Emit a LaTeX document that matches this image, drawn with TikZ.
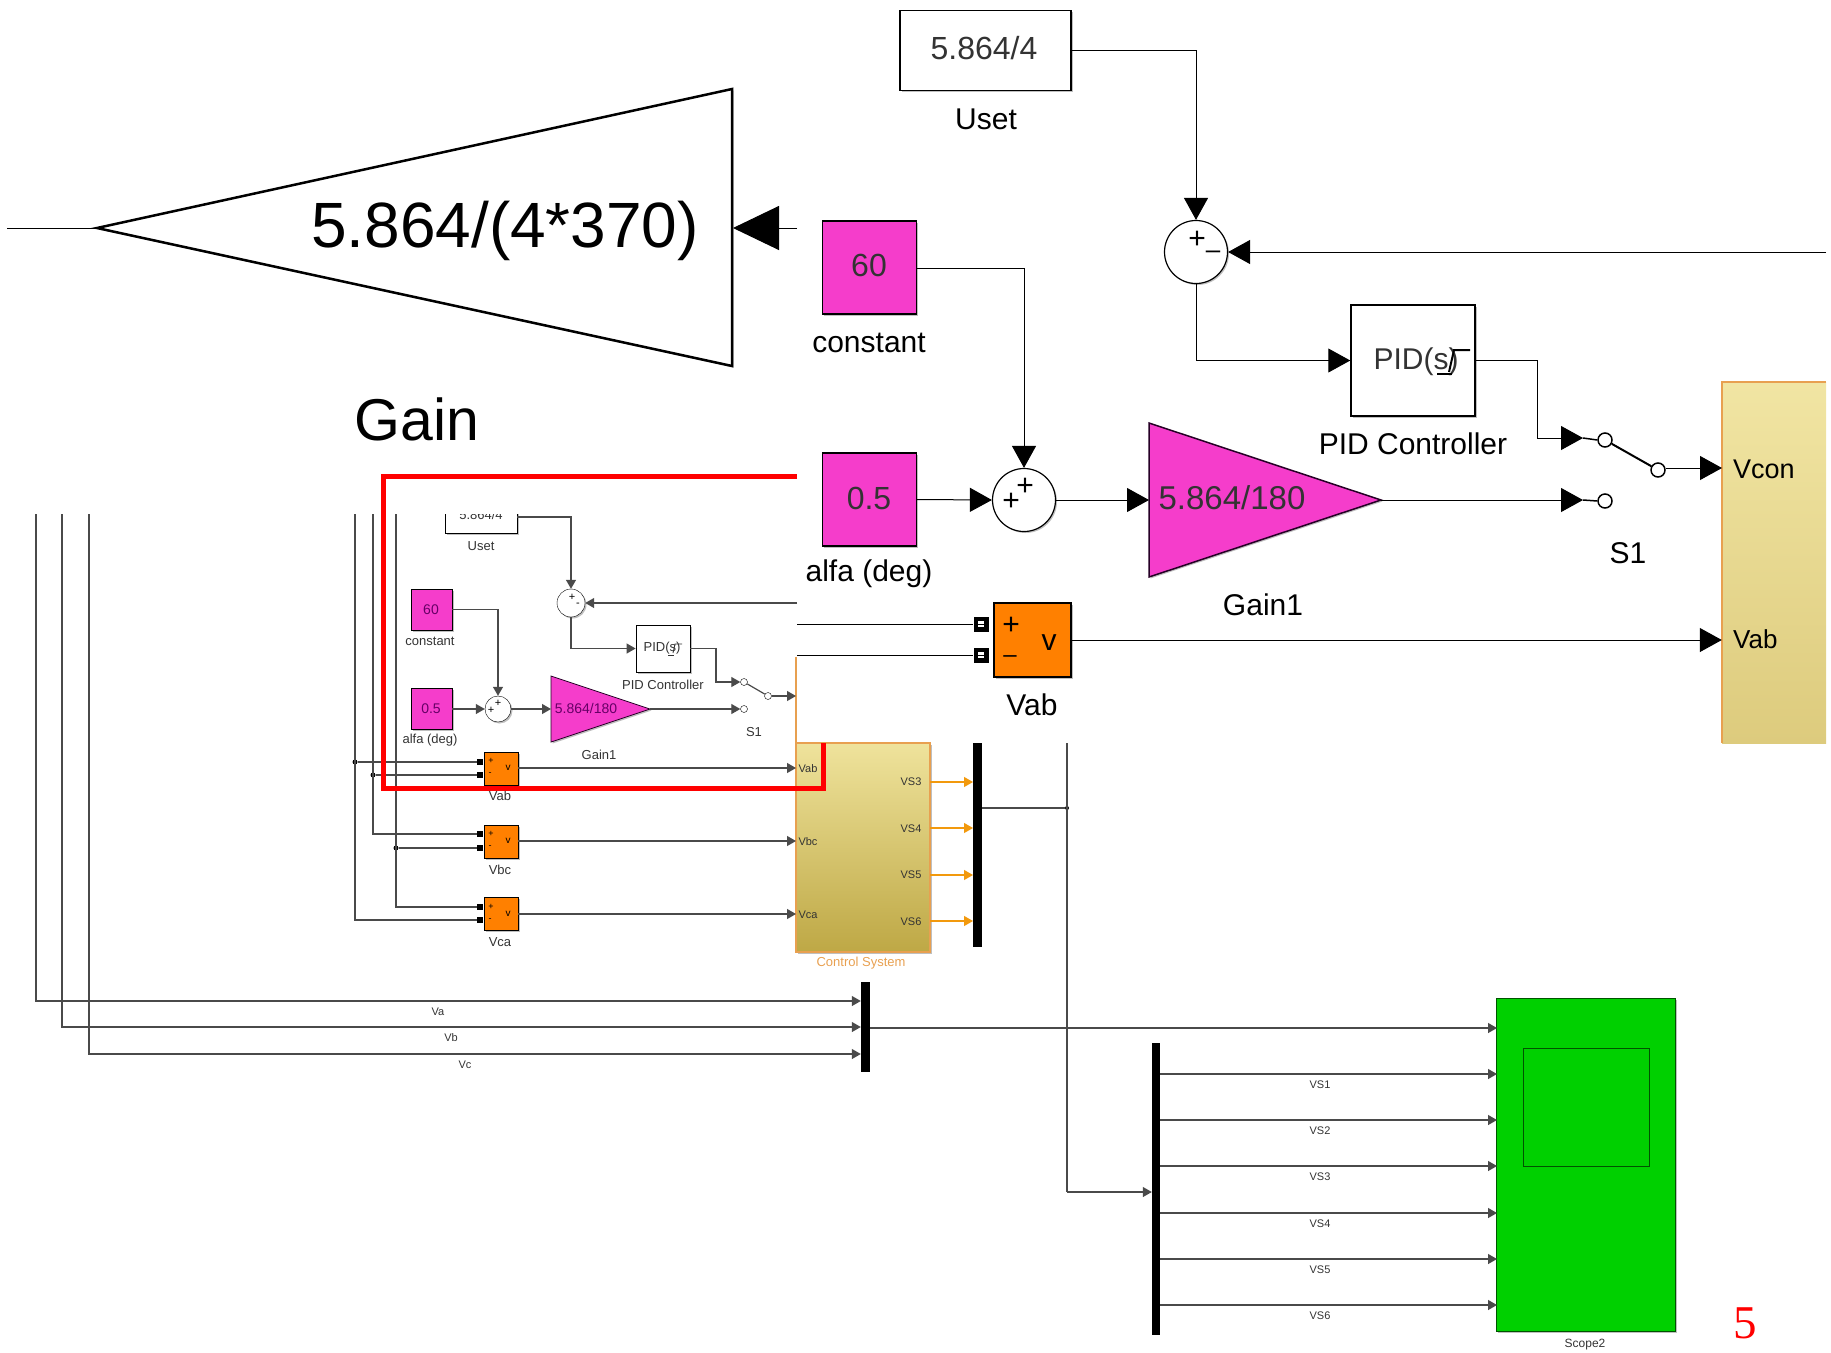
\documentclass[tikz,border=0pt]{standalone}
\usepackage{fontspec}
\setmainfont{Liberation Sans}
\newfontfamily\redserif{Liberation Serif}
\usetikzlibrary{arrows.meta,shadows}
\newcommand{\pxf}[1]{\fontsize{#1}{#1}\selectfont}
\definecolor{mag}{HTML}{F53DCB}
\definecolor{org}{HTML}{FF8000}
\definecolor{grn}{HTML}{00D000}
\definecolor{sgray}{HTML}{4A4A4A}
\definecolor{txtg}{HTML}{333333}
\definecolor{ctledge}{HTML}{E8A050}
\definecolor{ctla}{HTML}{EFE39C}
\definecolor{ctlb}{HTML}{BEA845}
\definecolor{ctlc}{HTML}{F1E5A3}
\definecolor{ctld}{HTML}{DDCB7D}
\tikzset{
  shd/.style={drop shadow={shadow xshift=1.5pt,shadow yshift=-1.5pt,opacity=.25,fill=black}},
  blk/.style 2 args={draw,inner sep=0pt,minimum width=#1,minimum height=#2,shd},
  bw/.style={black,line width=1pt},
  sw/.style={sgray,line width=1.2pt},
  ba/.style={-{Triangle[length=22pt,width=24pt]}},
  sa/.style={-{Triangle[length=9pt,width=10pt]}},
  lab/.style={inner sep=0pt,font=\pxf{30}},
  slab/.style={inner sep=0pt,font=\pxf{13},text=txtg},
  tlab/.style={inner sep=0pt,font=\pxf{11},text=txtg},
  dot/.style={circle,fill=black,inner sep=0pt,minimum size=5pt},
  sport/.style={fill=black,inner sep=0pt,minimum size=6pt},
  bport/.style={fill=black,inner sep=0pt,minimum size=15pt,
    path picture={\fill[white] ([xshift=-3pt,yshift=-3pt]path picture bounding box.center) rectangle ([xshift=3pt,yshift=3pt]path picture bounding box.center);
    \draw[black,line width=.8pt] ([xshift=-3pt]path picture bounding box.center) -- ([xshift=3pt]path picture bounding box.center);}},
  term/.style={circle,draw,fill=white,inner sep=0pt},
  redl/.style={red,line width=5pt}
}
\begin{document}
\begin{tikzpicture}[x=1pt,y=-1pt]
\useasboundingbox (0,0) rectangle (1831,1352);

% ---------- small (original) diagram ----------
% control system, visible lower part
\draw[ctledge,line width=1.5pt] (796,657) -- (796,743);
\node[draw=ctledge,line width=1.2pt,inner sep=0pt,minimum width=134pt,minimum height=209pt,top color=ctla,bottom color=ctlb,shd] (ctl) at (863,847.5) {};
\node[font=\pxf{13},text=ctledge,inner sep=0pt] (ctlname) at (861,963) {Control System};
\node[tlab] (cab) at (808,769) {Vab};
\node[tlab] (cbc) at (808,842) {Vbc};
\node[tlab] (cca) at (808,915) {Vca};
\node[tlab] (vs3) at (911,782) {VS3};
\node[tlab] (vs4) at (911,829) {VS4};
\node[tlab] (vs5) at (911,875) {VS5};
\node[tlab] (vs6) at (911,922) {VS6};
\coordinate (cin1) at (796,768);
\coordinate (cin2) at (796,841);
\coordinate (cin3) at (796,914);
\coordinate (cin0) at (796,696);

% left wires
\coordinate (t1) at (355,514);
\coordinate (t2) at (373,514);
\coordinate (t3) at (396,514);
\coordinate (l1) at (36,514);
\coordinate (l2) at (62,514);
\coordinate (l3) at (89,514);

% voltage blocks
\node[blk={34pt}{33pt},fill=org,line width=.8pt] (vab) at (501,768.5) {};
\node[blk={34pt}{33pt},fill=org,line width=.8pt] (vbc) at (501,841.5) {};
\node[blk={34pt}{33pt},fill=org,line width=.8pt] (vca) at (501,914) {};
\foreach \n/\y in {vab/768,vbc/841,vca/914}{
  \node[inner sep=0pt,font=\pxf{9}] (\n p) at (491,\y-7) {+};
  \node[inner sep=0pt,font=\pxf{9}] (\n m) at (490,\y+6) {-};
  \node[inner sep=0pt,font=\pxf{10}] (\n v) at (508,\y) {v};
}
\node[sport] (pa1) at (480,762) {};
\node[sport] (pa2) at (480,775) {};
\node[sport] (pb1) at (480,834) {};
\node[sport] (pb2) at (480,848) {};
\node[sport] (pc1) at (480,907) {};
\node[sport] (pc2) at (480,920) {};
\node[slab] (labvab) at (500,796) {Vab};
\node[slab] (labvbc) at (500,870) {Vbc};
\node[slab] (labvca) at (500,942) {Vca};
\node[dot] (j1) at (355,762) {};
\node[dot] (j2) at (373,775) {};
\node[dot] (j3) at (396,848) {};
\draw[sw] (j1) -- (pa1);
\draw[sw] (j2) -- (pa2);
\draw[sw] (j3) -- (pb2);
\draw[sw] (t2) |- (pb1);
\draw[sw] (t3) |- (pc1);
\draw[sw] (t1) |- (pc2);
\draw[sw,sa] (vab.east |- cin1) -- (cin1);
\draw[sw,sa] (vbc.east |- cin2) -- (cin2);
\draw[sw,sa] (vca.east |- cin3) -- (cin3);

% uset / sum / PID small
\begin{scope}
\clip (430,514) rectangle (600,560);
\node[blk={72pt}{38pt},fill=white,line width=.8pt] (uset) at (481,514) {};
\node[slab] (usettxt) at (481,515) {5.864/4};
\end{scope}
\node[slab] (usetlab) at (481,546) {Uset};
\node[circle,draw,fill=white,minimum size=28pt,inner sep=0pt,shd] (ssum) at (571,603) {};
\node[inner sep=0pt,font=\pxf{11}] (ssumplus) at (572,597) {+};
\node[inner sep=0pt,font=\pxf{11}] (ssumminus) at (578,605) {-};
\node[blk={54pt}{47pt},fill=white,line width=.8pt] (spid) at (663,648.5) {};
\node[inner sep=0pt,font=\pxf{13},text=txtg] (spidt) at (662,648) {PID(s)};
\draw[txtg,line width=.7pt] (668,655) -- (674,655);
\draw[txtg,line width=.8pt] (673,653) -- (675,644) -- (682,644);
\node[slab] (spidlab) at (663,685) {PID Controller};
\coordinate (uout) at (517,517);
\draw[sw,sa] (uout) -| (ssum.north);
\coordinate (srt) at (797,603);
\draw[sw,sa] (srt) -- (ssum.east);
\draw[sw,sa] (ssum.south) |- (spid.west);

\node[blk={41pt}{41pt},fill=mag,line width=.8pt] (c60) at (431.5,609.5) {};
\node[inner sep=0pt,font=\pxf{14},text=violet!80!black] (c60t) at (431,610) {60};
\node[slab] (c60lab) at (430,641) {constant};
\node[blk={41pt}{41pt},fill=mag,line width=.8pt] (c05) at (431.5,709) {};
\node[inner sep=0pt,font=\pxf{14},text=violet!80!black] (c05t) at (431,709) {0.5};
\node[slab] (c05lab) at (430,740) {alfa (deg)};
\node[circle,draw,fill=white,minimum size=26pt,inner sep=0pt,shd] (ssum2) at (498,709) {};
\node[inner sep=0pt,font=\pxf{11}] (s2a) at (498,703) {+};
\node[inner sep=0pt,font=\pxf{11}] (s2b) at (491,710) {+};
\draw[sw,sa] (c60.east) -| (ssum2.north);
\draw[sw,sa] (c05.east) -- (ssum2.west);

\filldraw[fill=mag,draw=black!70!violet,line width=.8pt,shd] (551,676) -- (551,742) -- (650,709) -- cycle;
\coordinate (sg1in) at (551,709);
\coordinate (sg1tip) at (650,709);
\node[inner sep=0pt,font=\pxf{14},text=violet!80!black] (sg1t) at (586,708) {5.864/180};
\node[slab] (sg1lab) at (599,755) {Gain1};
\draw[sw,sa] (ssum2.east) -- (sg1in);
\node[term,minimum size=7pt] (ss1a) at (744,682) {};
\node[term,minimum size=7pt] (ss1b) at (744,709) {};
\node[term,minimum size=7pt] (ss1c) at (768,696) {};
\node[slab] (ss1lab) at (754,732) {S1};
\draw[sw] (ss1a) -- (ss1c);
\coordinate (sp1) at (716,682);
\draw[sw,sa] (spid.east) -| (sp1) -- (ss1a.west);
\draw[sw,sa] (sg1tip) -- (ss1b.west);
\draw[sw,sa] (ss1c.east) -- (cin0);

% red frame
\coordinate (ra) at (797,476);
\coordinate (rb) at (383,476);
\coordinate (rc) at (383,788);
\coordinate (rd) at (823,788);
\coordinate (re) at (823,743);
\draw[redl] (ra) -- (rb) -- (rc) -- (rd) -- (re);

% output mux and bus
\foreach \n/\y in {a/782,b/828,c/875,d/921}{
  \coordinate (mi\n) at (973,\y);
  \coordinate (mo\n) at (930,\y);
  \draw[orange!75!brown!80!yellow,line width=1.2pt,sa] (mo\n) -- (mi\n);
}
\node[fill=black,inner sep=0pt,minimum width=9pt,minimum height=204pt] (mux2) at (977.5,845) {};
\node[dot,minimum size=4pt] (j4) at (1067,808) {};
\coordinate (busl) at (1067,1192);
\coordinate (bust) at (1067,743);
\draw[sw] (mux2.east |- j4) -- (j4);
\draw[sw] (bust) -- (busl);

% bottom mux
\node[fill=black,inner sep=0pt,minimum width=9pt,minimum height=90pt] (mux1) at (865.5,1027) {};
\coordinate (l1b) at (36,1001);
\coordinate (l2b) at (62,1027);
\coordinate (l3b) at (89,1054);
\draw[sw,sa] (l1) -- (l1b) -- (mux1.west |- l1b);
\draw[sw,sa] (l2) -- (l2b) -- (mux1.west |- l2b);
\draw[sw,sa] (l3) -- (l3b) -- (mux1.west |- l3b);
\node[tlab] (va) at (438,1012) {Va};
\node[tlab] (vb) at (451,1038) {Vb};
\node[tlab] (vc) at (465,1065) {Vc};

% scope
\node[draw=black!60!grn,line width=1pt,fill=grn,inner sep=0pt,minimum width=179pt,minimum height=333pt,shd] (scope) at (1586,1165) {};
\node[draw=black!60!grn,line width=1pt,fill=grn,inner sep=0pt,minimum width=126pt,minimum height=118pt] (screen) at (1586.5,1107) {};
\node[inner sep=0pt,font=\pxf{12},text=txtg] (scopelab) at (1585,1345) {Scope2};
\coordinate (sin0) at (1497,1028);
\draw[sw,sa] (mux1.east |- sin0) -- (sin0);
\node[fill=black,inner sep=0pt,minimum width=8pt,minimum height=292pt] (mux3) at (1156,1189) {};
\draw[sw,sa] (busl) -- (mux3.west |- busl);
\foreach \n/\y/\t in {1/1074/VS1,2/1120/VS2,3/1166/VS3,4/1213/VS4,5/1259/VS5,6/1305/VS6}{
  \coordinate (sinp\n) at (1497,\y);
  \draw[sw,sa] (mux3.east |- sinp\n) -- (sinp\n);
  \node[tlab] (vsl\n) at (1320,\y+11) {\t};
}

% ---------- enlarged part ----------
% big gain
\filldraw[fill=white,draw=black,line width=2.5pt,shd] (97,228) -- (732,89) -- (732,366) -- cycle;
\coordinate (gtip) at (97,228);
\coordinate (gback) at (733,228);
\coordinate (gstart) at (7,228);
\coordinate (gin) at (797,228);
\draw[bw] (gstart) -- (gtip);
\draw[bw,-{Triangle[length=46pt,width=44pt]}] (gin) -- (gback);
\node[inner sep=0pt,font=\pxf{64}] (gtxt) at (505,231) {5.864/(4*370)};
\node[inner sep=0pt,font=\pxf{59}] (gname) at (417,419) {Gain};

% uset
\node[blk={171pt}{80pt},fill=white,line width=1.5pt] (busset) at (985.5,50.5) {};
\node[inner sep=0pt,font=\pxf{32},text=txtg] (bussett) at (984,48) {5.864/4};
\node[lab] (busetlab) at (986,119) {Uset};
\node[circle,draw,line width=1.2pt,fill=white,minimum size=63pt,inner sep=0pt,shd] (bsum) at (1196,252) {};
\node[inner sep=0pt,font=\pxf{30}] (bsumpl) at (1197,240) {+};
\node[inner sep=0pt,font=\pxf{26}] (bsummi) at (1213,255) {–};
\coordinate (bright) at (1826,252);
\draw[bw,ba] (busset.east) -| (bsum.north);
\draw[bw,ba] (bright) -- (bsum.east);

% PID
\node[blk={124pt}{111pt},fill=white,line width=1.5pt] (bpid) at (1413,360.5) {};
\node[inner sep=0pt,font=\pxf{30},text=txtg] (bpidt) at (1416,362) {PID(s)};
\draw[black,line width=1.4pt] (1437,374) -- (1452,374);
\draw[black,line width=2pt] (1449,372) -- (1454,350) -- (1470,350);
\node[lab] (bpidlab) at (1413,444) {PID Controller};
\draw[bw,ba] (bsum.south) |- (bpid.west);

% constants
\node[blk={94pt}{93pt},fill=mag,line width=1.2pt] (b60) at (869.5,267.5) {};
\node[inner sep=0pt,font=\pxf{32},text=txtg] (b60t) at (869,265) {60};
\node[lab] (b60lab) at (869,343) {constant};
\node[blk={94pt}{93pt},fill=mag,line width=1.2pt] (b05) at (869.5,499.5) {};
\node[inner sep=0pt,font=\pxf{32},text=txtg] (b05t) at (869,498) {0.5};
\node[lab] (b05lab) at (869,574) {alfa (deg)};
\node[circle,draw,line width=1.2pt,fill=white,minimum size=63pt,inner sep=0pt,shd] (bsum2) at (1024,500) {};
\node[inner sep=0pt,font=\pxf{30}] (bs2a) at (1025,487) {+};
\node[inner sep=0pt,font=\pxf{30}] (bs2b) at (1011,502) {+};
\coordinate (b60out) at (917,268);
\draw[bw,ba] (b60out) -| (bsum2.north);
\draw[bw,ba] (b05.east) -- (bsum2.west);

% gain1
\filldraw[fill=mag,draw=black!70!violet,line width=1.5pt,shd] (1149,423) -- (1149,577) -- (1381,500) -- cycle;
\coordinate (bg1in) at (1149,500);
\coordinate (bg1tip) at (1381,500);
\node[inner sep=0pt,font=\pxf{33},text=txtg] (bg1t) at (1232,498) {5.864/180};
\node[lab] (bg1lab) at (1263,605) {Gain1};
\draw[bw,ba] (bsum2.east) -- (bg1in);

% switch
\node[term,line width=1.5pt,minimum size=14pt] (bs1a) at (1605,440) {};
\node[term,line width=1.5pt,minimum size=14pt] (bs1b) at (1605,501) {};
\node[term,line width=1.5pt,minimum size=14pt] (bs1c) at (1658,470) {};
\node[lab] (bs1lab) at (1628,553) {S1};
\draw[black,line width=2pt] (bs1a) -- (bs1c);
\coordinate (bp1) at (1537,438);
\coordinate (bs1ain) at (1583,438);
\coordinate (bs1bin) at (1583,500);
\coordinate (bvconin) at (1722,468);
\draw[bw,ba] (bpid.east) -| (bp1) -- (bs1ain);
\draw[black,line width=1.5pt] (bs1ain) -- (bs1a.west);
\draw[bw,ba] (bg1tip) -- (bs1bin);
\draw[black,line width=1.5pt] (bs1bin) -- (bs1b.west);

% big control
\node[inner sep=0pt,minimum width=104pt,minimum height=361pt,top color=ctlc,bottom color=ctld] (bctl) at (1774,562.5) {};
\draw[ctledge,line width=2pt] (bctl.south west) -- (bctl.north west) -- (bctl.north east);
\node[inner sep=0pt,font=\pxf{27},anchor=west] (bvcon) at (1733,469) {Vcon};
\node[inner sep=0pt,font=\pxf{26},anchor=west] (bvabi) at (1733,639) {Vab};
\draw[bw,ba] (bs1c.east |- bvconin) -- (bvconin);

% big Vab
\node[blk={77pt}{74pt},fill=org,line width=1.2pt] (bvab) at (1032.5,640) {};
\node[inner sep=0pt,font=\pxf{30}] (bvabp) at (1011,626) {+};
\node[inner sep=0pt,font=\pxf{24}] (bvabm) at (1010,659) {–};
\node[inner sep=0pt,font=\pxf{30}] (bvabv) at (1049,643) {v};
\node[lab] (bvablab) at (1032,705) {Vab};
\node[bport] (bp1a) at (981,624) {};
\node[bport] (bp2a) at (981,655) {};
\coordinate (bwa) at (797,624);
\coordinate (bwb) at (797,655);
\draw[bw] (bwa) -- (bp1a);
\draw[bw] (bwb) -- (bp2a);
\draw[bw,ba] (bvab.east) -- (bctl.west |- bvab.east);

% page number
\node[inner sep=0pt,font={\redserif\pxf{47}},text=red] (pg) at (1745,1323) {5};
\end{tikzpicture}
\end{document}
